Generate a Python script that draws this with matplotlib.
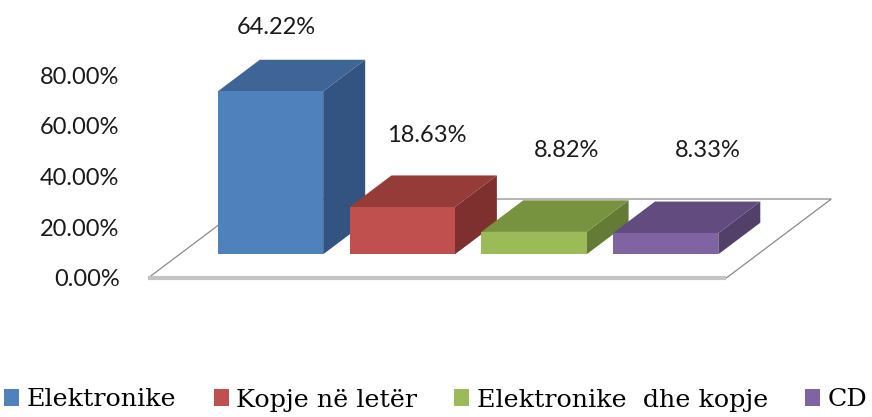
import matplotlib
matplotlib.use("Agg")
import matplotlib.pyplot as plt
from matplotlib.patches import Polygon, Patch

# ---- data ----
categories = ["Elektronike", "Kopje në letër", "Elektronike  dhe kopje", "CD"]
values = [64.22, 18.63, 8.82, 8.33]
yticks = [0, 20, 40, 60, 80]
ytick_labels = ["0.00%", "20.00%", "40.00%", "60.00%", "80.00%"]

# ---- style ----
front_colors = ["#4F81BD", "#C0504D", "#9BBB59", "#8064A2"]
top_colors = ["#3E6596", "#953C39", "#789340", "#624B7E"]
side_colors = ["#335380", "#7D302E", "#647B35", "#523F6A"]
label_offsets = [(6, 57), (25, 65), (33, 75), (42, 76)]  # pixels

DX, DY = 0.797, 31.13      # projection of unit depth (category units, percent units)
d1, d2 = 0.30, 0.70        # bar depth range
w = 0.80                   # bar width
floor_x = (-0.69, 3.70)

W, H = 872, 417
fig = plt.figure(figsize=(W / 100, H / 100), dpi=100)
ax = fig.add_axes([148 / W, (H - 370) / H, 724 / W, 370 / H])
ax.set_xlim(-0.691, 4.806)
ax.set_ylim(-36.26, 109.56)
for s in ax.spines.values():
    s.set_visible(False)
ax.set_xticks([])
ax.set_yticks(yticks)
ax.set_yticklabels(ytick_labels)
ax.tick_params(axis="y", length=0, pad=20.5, labelsize=17, labelcolor="#1a1a1a")
for t in ax.get_yticklabels():
    t.set_fontfamily("Lato")


def P(x, v, d):
    return (x + DX * d, v + DY * d)


# floor
fx0, fx1 = floor_x
floor = Polygon([P(fx0, 0, 0), P(fx1, 0, 0), P(fx1, 0, 1), P(fx0, 0, 1)],
                closed=True, facecolor="white", edgecolor="#8a8a8a", lw=0.9,
                clip_on=False, zorder=1)
ax.add_patch(floor)
ax.plot([fx0, fx1], [0, 0], color="#c4c4c4", lw=3, solid_capstyle="butt",
        clip_on=False, zorder=1.5)

# bars
for i, v in enumerate(values):
    x0, x1 = i - w / 2, i + w / 2
    z = 2 + i
    side = Polygon([P(x1, 0, d1), P(x1, v, d1), P(x1, v, d2), P(x1, 0, d2)],
                   closed=True, facecolor=side_colors[i], edgecolor="none", zorder=z)
    top = Polygon([P(x0, v, d1), P(x1, v, d1), P(x1, v, d2), P(x0, v, d2)],
                  closed=True, facecolor=top_colors[i], edgecolor="none", zorder=z)
    ax.add_patch(side)
    ax.add_patch(top)
    ax.bar(i + DX * d1, v, width=w, bottom=DY * d1, color=front_colors[i],
           edgecolor="none", zorder=z + 0.5)
    fx, fy = P(i, v, d1)
    ax.annotate(f"{v:.2f}%", (fx, fy), xytext=label_offsets[i],
                textcoords="offset pixels", ha="center", va="baseline",
                fontsize=17, family="Lato", color="#1a1a1a", zorder=10,
                annotation_clip=False)

handles = [Patch(facecolor=c, edgecolor="none") for c in front_colors]
fig.legend(handles, categories, loc="center", bbox_to_anchor=(0.5, 1 - 400 / H),
           ncol=4, frameon=False, prop={"family": "DejaVu Serif", "size": 18.3},
           handlelength=0.6, handleheight=0.6, handletextpad=0.3,
           columnspacing=1.45, borderaxespad=0, borderpad=0)

fig.savefig("out.png", dpi=100, facecolor="white")
